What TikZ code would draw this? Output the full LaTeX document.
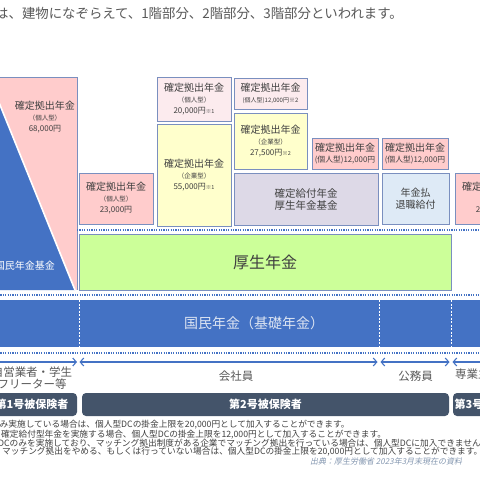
\documentclass[tikz,border=0pt]{standalone}
\usepackage{fontspec}
\setmainfont{Noto Sans CJK JP}
\newfontfamily\slfont[FakeSlant=0.2]{Noto Sans CJK JP}
\usetikzlibrary{arrows.meta}
\definecolor{bordc}{HTML}{7A8FBF}
\definecolor{pinkc}{HTML}{FFCCCC}
\definecolor{lpinkc}{HTML}{FCEBEE}
\definecolor{yelc}{HTML}{FFFFCC}
\definecolor{lavc}{HTML}{DDD9E7}
\definecolor{lbluec}{HTML}{DEEAF6}
\definecolor{greenc}{HTML}{CCFF99}
\definecolor{bluec}{HTML}{4472C4}
\definecolor{darkc}{HTML}{44546A}
\definecolor{txtc}{HTML}{404040}
\definecolor{graytxt}{HTML}{595959}
\definecolor{srcc}{HTML}{8497B0}
\definecolor{bandtxt}{HTML}{DCE4F2}
\newcommand\fsz[2]{\fontsize{#1}{#2}\selectfont}
\begin{document}
\begin{tikzpicture}[x=1pt,y=-1pt,
  dcbox/.style={draw=bordc, line width=0.7pt, inner sep=0pt, text=txtc, align=center, font=\fsz{8}{11}},
  darkbox/.style={fill=darkc, rounded corners=4pt, inner sep=0pt, minimum height=23pt, text=white, font=\fsz{11}{13}\bfseries},
  dotline/.style={bluec, line width=1.6pt, dash pattern=on 1.2pt off 1.2pt},
  span/.style={bluec, line width=1.1pt, {Straight Barb[length=3.5pt,width=8pt]}-{Straight Barb[length=3.5pt,width=8pt]}},
  lbl/.style={text=graytxt, font=\fsz{11.5}{13}, align=center, inner sep=0pt},
  note/.style={text=txtc, font=\fsz{8.7}{9}, anchor=west, inner sep=0pt}
]
\useasboundingbox (0,0) rectangle (480,480);
\fill[white] (0,0) rectangle (480,480);
\clip (0,0) rectangle (480,480);

% title
\node[anchor=east, inner sep=0pt, text=graytxt, font=\fsz{13.4}{15}] (title) at (403,13) {年金制度は、建物になぞらえて、1階部分、2階部分、3階部分といわれます。};

% big pink box and blue triangle
\fill[pinkc] (-5,77) rectangle (77,290);
\draw[bordc, line width=0.7pt] (-5,77) -- (77,77) -- (77,290);
\fill[bluec] (-12,75.4) -- (75,290) -- (-12,290) -- cycle;
\draw[white, line width=1.6pt] (-12,75.4) -- (75,290);
\node[text=white, font=\fsz{10}{12}, anchor=east, inner sep=0pt] (kikin) at (55,266) {国民年金基金};
\node[text=txtc, align=center, inner sep=0pt, font=\fsz{8}{11}] (dcL) at (45,117)
  {{\fsz{10}{11}確定拠出年金}\\{\fsz{6.5}{11}（個人型）}\\{\fsz{8}{11}68,000円}};

% 2nd/3rd floor boxes
\node[dcbox, fill=pinkc, minimum width=74pt, minimum height=51pt] (p23) at (116,198.5)
  {{\fsz{10}{11}確定拠出年金}\\{\fsz{6.5}{11}（個人型）}\\{\fsz{8}{11}23,000円}};
\node[dcbox, fill=lpinkc, minimum width=74pt, minimum height=44pt] (boxA) at (194,99)
  {{\fsz{10}{11.5}確定拠出年金}\\{\fsz{6.5}{11.5}（個人型）}\\{\fsz{8}{11.5}20,000円{\fsz{5.5}{11.5}※1}}};
\node[dcbox, fill=yelc, minimum width=74pt, minimum height=102pt] (boxB) at (194,175)
  {{\fsz{10}{11}確定拠出年金}\\{\fsz{6.5}{11}（企業型）}\\{\fsz{8}{11}55,000円{\fsz{5.5}{11}※1}}};
\node[dcbox, fill=lpinkc, minimum width=73pt, minimum height=31pt] (boxC) at (270.5,93.5)
  {{\fsz{10}{11}確定拠出年金}\\{\fsz{6}{11}(個人型)12,000円※2}};
\node[dcbox, fill=yelc, minimum width=73pt, minimum height=56pt] (boxD) at (270.5,141)
  {{\fsz{10}{10.5}確定拠出年金}\\{\fsz{6.5}{10.5}（企業型）}\\{\fsz{8}{10.5}27,500円{\fsz{5.5}{10.5}※2}}};
\node[dcbox, fill=lavc, minimum width=144pt, minimum height=52pt, font=\fsz{10.5}{12}] (boxE) at (306,199)
  {確定給付年金\\厚生年金基金};
\node[dcbox, fill=pinkc, minimum width=66pt, minimum height=31pt] (boxF) at (345,153.5)
  {{\fsz{10}{13}確定拠出年金}\\{\fsz{7.8}{13}(個人型)12,000円}};
\node[dcbox, fill=pinkc, minimum width=66pt, minimum height=31pt] (boxG) at (415,153.5)
  {{\fsz{10}{13}確定拠出年金}\\{\fsz{7.8}{13}(個人型)12,000円}};
\node[dcbox, fill=lbluec, minimum width=67pt, minimum height=51pt, font=\fsz{10}{12}] (boxH) at (415.5,198.5)
  {年金払\\退職給付};
\node[dcbox, fill=pinkc, minimum width=74pt, minimum height=51pt] (boxI) at (492,198.5)
  {{\fsz{10}{11}確定拠出年金}\\{\fsz{6.5}{11}（個人型）}\\{\fsz{8}{11}23,000円}};

% dotted separators
\draw[dotline] (77,230) -- (482,230);
\draw[dotline] (-2,295) -- (482,295);
\draw[dotline] (-2,353) -- (482,353);

% green 厚生年金
\node[dcbox, fill=greenc, minimum width=372pt, minimum height=56pt, font=\fsz{16}{18}] (kousei) at (265,262) {厚生年金};

% blue band
\fill[bluec] (-5,300) rectangle (485,347);
\foreach \xx in {79,379,451} \draw[white, line width=0.6pt, dash pattern=on 2pt off 1.5pt] (\xx,300) -- (\xx,347);
\node[text=bandtxt, font=\fsz{14}{16}, inner sep=0pt] (kokumin) at (254,323) {国民年金（基礎年金）};

% spans
\coordinate (a1s) at (-30,362); \coordinate (a1e) at (77,362);
\coordinate (a2s) at (79.5,362); \coordinate (a2e) at (377.5,362);
\coordinate (a3s) at (380.5,362); \coordinate (a3e) at (449.5,362);
\coordinate (a4s) at (452.5,362); \coordinate (a4e) at (560,362);
\draw[span] (a1s) -- (a1e);
\draw[span] (a2s) -- (a2e);
\draw[span] (a3s) -- (a3e);
\draw[span] (a4s) -- (a4e);

\node[lbl, font=\fsz{11.5}{12.5}] (jiei) at (32,378) {自営業者・学生\\フリーター等};
\node[lbl] (kaisha) at (236,376) {会社員};
\node[lbl] (koumu) at (415.5,376) {公務員};
\node[lbl, anchor=west] (sengyo) at (455,374) {専業主婦（夫）};

% insured categories
\node[darkbox, minimum width=90pt] (ins1) at (32,404.5) {第1号被保険者};
\node[darkbox, minimum width=367pt] (ins2) at (265.5,404.5) {第2号被保険者};
\node[darkbox, minimum width=76pt] (ins3) at (491,404.5) {第3号被保険者};

% notes
\node[note] (n1) at (-0.5,425) {み実施している場合は、個人型DCの掛金上限を20,000円として加入することができます。};
\node[note] (n2) at (1,434.5) {確定給付型年金を実施する場合、個人型DCの掛金上限を12,000円として加入することができます。};
\node[note] (n3) at (-2,443) {DCのみを実施しており、マッチング拠出制度がある企業でマッチング拠出を行っている場合は、個人型DCに加入できません。};
\node[note] (n4) at (2,451.5) {マッチング拠出をやめる、もしくは行っていない場合は、個人型DCの掛金上限を20,000円として加入することができます。};
\node[note, text=srcc, font=\slfont\fsz{8}{9}] (src) at (310,461) {出典：厚生労働省 2023年3月末現在の資料};
\end{tikzpicture}
\end{document}
